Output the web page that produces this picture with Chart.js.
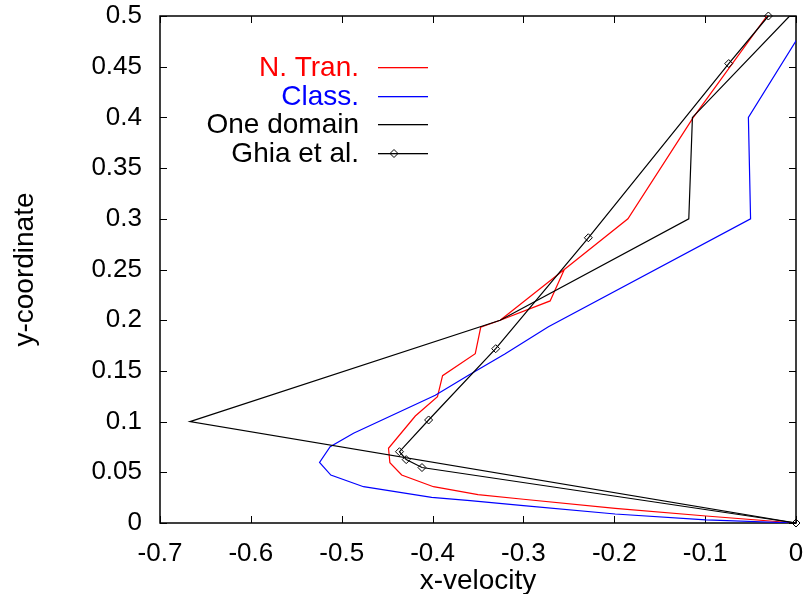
<!DOCTYPE html>
<html>
<head>
<meta charset="utf-8">
<script src="https://cdn.jsdelivr.net/npm/chart.js@4.4.1/dist/chart.umd.min.js"></script>
<style>
  html, body { margin: 0; padding: 0; background: #fff; }
</style>
</head>
<body>
<canvas id="myChart" width="804" height="594"></canvas>
<script>
'use strict';

// N. Tran. (red)
let tranX = [0, -0.099, -0.199, -0.3, -0.35, -0.399, -0.434, -0.447, -0.4485, -0.419, -0.3946, -0.389, -0.353, -0.347, -0.3256, -0.2706, -0.255, -0.3256, -0.255, -0.185, -0.113, -0.032];
let tranY = [0, 0.0069, 0.0145, 0.0234, 0.028, 0.0358, 0.0473, 0.0595, 0.0737, 0.1055, 0.1246, 0.1453, 0.167, 0.193, 0.2, 0.219, 0.25, 0.2, 0.25, 0.3, 0.4, 0.5];

// Class. (blue)
let classX = [0, -0.0993, -0.199, -0.3, -0.3586, -0.401, -0.476, -0.512, -0.5244, -0.5127, -0.487, -0.397, -0.36, -0.32, -0.2725, -0.05, -0.0524, 0.017];
let classY = [0, 0.003, 0.0089, 0.0171, 0.022, 0.0253, 0.0358, 0.0473, 0.0598, 0.0752, 0.0885, 0.126, 0.146, 0.167, 0.1936, 0.3, 0.4, 0.5];

// One domain (black)
let oneX = [0, -0.667, -0.3256, -0.118, -0.114, -0.007];
let oneY = [0, 0.1, 0.2, 0.3, 0.4, 0.5];

// Ghia et al. (black, diamonds)
let ghiaX = [0, -0.41165, -0.42901, -0.43643, -0.40435, -0.3305, -0.22855, -0.07404, -0.03039];
let ghiaY = [0, 0.0547, 0.0625, 0.0703, 0.1016, 0.1719, 0.2813, 0.4531, 0.5];

let xTickVals = [-0.7, -0.6, -0.5, -0.4, -0.3, -0.2, -0.1, 0];
let xTickText = ['-0.7', '-0.6', '-0.5', '-0.4', '-0.3', '-0.2', '-0.1', '0'];
let yTickVals = [0, 0.05, 0.1, 0.15, 0.2, 0.25, 0.3, 0.35, 0.4, 0.45, 0.5];
let yTickText = ['0', '0.05', '0.1', '0.15', '0.2', '0.25', '0.3', '0.35', '0.4', '0.45', '0.5'];

let fontFamily = '"Liberation Sans", Arial, Helvetica, sans-serif';

function toPoints(xs, ys) {
  let pts = [];
  for (let i = 0; i < xs.length; i++) {
    pts.push({ x: xs[i], y: ys[i] });
  }
  return pts;
}

// fixed box sizes, and no extra room for the edge labels
function fixBox(scale, w, h) {
  if (w) scale.width = w;
  if (h) scale.height = h;
  scale.paddingTop = 0;
  scale.paddingBottom = 0;
  scale.paddingLeft = 0;
  scale.paddingRight = 0;
}

// border box and inward ticks on all four sides
let frameTicks = {
  id: 'frameTicks',
  beforeDatasetsDraw(chart) {
    let ctx = chart.ctx;
    let a = chart.chartArea;
    let xs = chart.scales.x;
    let ys = chart.scales.y;
    let len = 7;
    ctx.save();
    ctx.strokeStyle = '#000';
    ctx.lineWidth = 1.5;
    ctx.strokeRect(a.left, a.top, a.right - a.left, a.bottom - a.top);
    ctx.lineWidth = 1;
    ctx.beginPath();
    xTickVals.forEach(function (v) {
      let px = Math.round(xs.getPixelForValue(v)) + 0.5;
      ctx.moveTo(px, a.bottom); ctx.lineTo(px, a.bottom - len);
      ctx.moveTo(px, a.top); ctx.lineTo(px, a.top + len);
    });
    yTickVals.forEach(function (v) {
      let py = Math.round(ys.getPixelForValue(v)) + 0.5;
      ctx.moveTo(a.left, py); ctx.lineTo(a.left + len, py);
      ctx.moveTo(a.right, py); ctx.lineTo(a.right - len, py);
    });
    ctx.stroke();
    ctx.restore();
  }
};

function diamond(ctx, x, y, r) {
  ctx.beginPath();
  ctx.moveTo(x, y - r);
  ctx.lineTo(x + r, y);
  ctx.lineTo(x, y + r);
  ctx.lineTo(x - r, y);
  ctx.closePath();
  ctx.stroke();
}

// gnuplot style key: text right aligned, sample line after it
let keyBox = {
  id: 'keyBox',
  afterDatasetsDraw(chart) {
    let ctx = chart.ctx;
    ctx.save();
    ctx.font = '28px ' + fontFamily;
    ctx.textAlign = 'right';
    ctx.textBaseline = 'middle';
    chart.data.datasets.forEach(function (ds, i) {
      let y = Math.round(67 + i * 28.5);
      ctx.fillStyle = ds.textColor;
      ctx.fillText(ds.label, 359, y + 1);
      ctx.fillRect(378, y, 50, 1.3);
      if (ds.pointRadius > 0) {
        ctx.strokeStyle = ds.textColor;
        ctx.lineWidth = 1;
        diamond(ctx, 394, y + 0.5, 4);
      }
    });
    ctx.restore();
  }
};

let ctx = document.getElementById('myChart').getContext('2d');

let myChart = new Chart(ctx, {
  type: 'scatter',
  data: {
    datasets: [{
      label: 'N. Tran.',
      data: toPoints(tranX, tranY),
      showLine: true,
      borderColor: '#ff0000',
      textColor: '#ff0000',
      borderWidth: 1.2,
      pointRadius: 0,
      order: 4
    }, {
      label: 'Class.',
      data: toPoints(classX, classY),
      showLine: true,
      borderColor: '#0000ff',
      textColor: '#0000ff',
      borderWidth: 1.2,
      pointRadius: 0,
      order: 3
    }, {
      label: 'One domain',
      data: toPoints(oneX, oneY),
      showLine: true,
      borderColor: '#000000',
      textColor: '#000000',
      borderWidth: 1.2,
      pointRadius: 0,
      order: 2
    }, {
      label: 'Ghia et al.',
      data: toPoints(ghiaX, ghiaY),
      showLine: true,
      borderColor: '#000000',
      textColor: '#000000',
      borderWidth: 1.2,
      pointStyle: 'rectRot',
      pointRadius: 4,
      pointBorderWidth: 1,
      pointBackgroundColor: 'rgba(0,0,0,0)',
      clip: false,
      order: 1
    }]
  },
  options: {
    responsive: false,
    animation: false,
    layout: { autoPadding: false, padding: { top: 16, right: 8, left: 0, bottom: 0 } },
    plugins: {
      legend: { display: false },
      tooltip: { enabled: false }
    },
    scales: {
      x: {
        type: 'linear',
        min: -0.7,
        max: 0,
        afterBuildTicks: function (scale) {
          scale.ticks = xTickVals.map(function (v) { return { value: v }; });
        },
        afterFit: function (scale) { fixBox(scale, 0, 71); },
        grid: { display: false, drawTicks: false },
        border: { display: false },
        ticks: {
          color: '#000',
          padding: 15,
          maxRotation: 0,
          font: { family: fontFamily, size: 26 },
          callback: function (v, i) { return xTickText[i]; }
        },
        title: {
          display: true,
          text: 'x-velocity',
          color: '#000',
          font: { family: fontFamily, size: 28 },
          padding: { top: 0, bottom: -4 }
        }
      },
      y: {
        type: 'linear',
        min: 0,
        max: 0.5,
        afterBuildTicks: function (scale) {
          scale.ticks = yTickVals.map(function (v) { return { value: v }; });
        },
        afterFit: function (scale) { fixBox(scale, 160, 0); },
        grid: { display: false, drawTicks: false },
        border: { display: false },
        ticks: {
          color: '#000',
          padding: 18,
          font: { family: fontFamily, size: 26 },
          callback: function (v, i) { return yTickText[i]; }
        },
        title: {
          display: true,
          text: 'y-coordinate',
          color: '#000',
          font: { family: fontFamily, size: 28 },
          padding: { top: 8, bottom: 0 }
        }
      }
    }
  },
  plugins: [frameTicks, keyBox]
});
</script>
</body>
</html>
